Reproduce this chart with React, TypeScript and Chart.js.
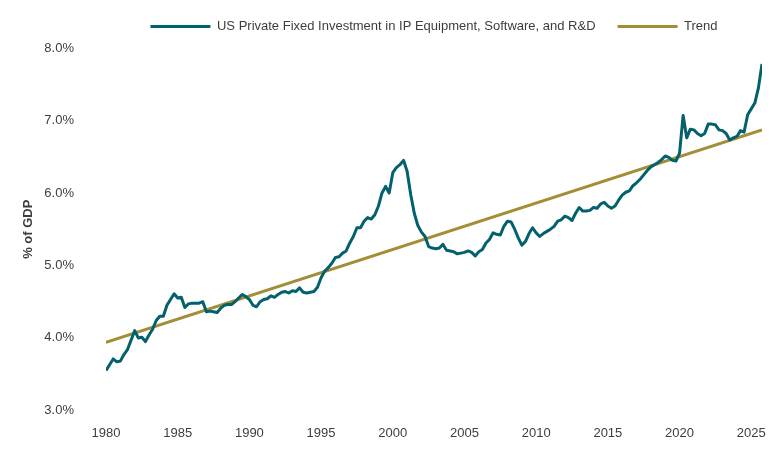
import { useEffect, useRef } from 'react';
import { Chart, registerables } from 'chart.js';

Chart.register(...registerables);

// Quarterly series, 1980 Q1 onward (% of GDP)
const startYear = 1980;
const quartersPerYear = 4;
const investmentShare: number[] = [
  3.55, 3.63, 3.71, 3.67, // 1980
  3.68, 3.77, 3.84, 3.97, // 1981
  4.10, 4.00, 4.01, 3.95, // 1982
  4.04, 4.12, 4.24, 4.30, // 1983
  4.30, 4.45, 4.53, 4.61, // 1984
  4.55, 4.56, 4.42, 4.47, // 1985
  4.48, 4.48, 4.48, 4.50, // 1986
  4.36, 4.37, 4.36, 4.35, // 1987
  4.41, 4.45, 4.46, 4.46, // 1988
  4.50, 4.55, 4.60, 4.57, // 1989
  4.53, 4.45, 4.43, 4.50, // 1990
  4.53, 4.54, 4.58, 4.56, // 1991
  4.60, 4.63, 4.64, 4.62, // 1992
  4.65, 4.64, 4.69, 4.63, // 1993
  4.62, 4.63, 4.64, 4.70, // 1994
  4.83, 4.92, 4.97, 5.03, // 1995
  5.11, 5.12, 5.17, 5.20, // 1996
  5.31, 5.40, 5.52, 5.52, // 1997
  5.61, 5.66, 5.64, 5.70, // 1998
  5.82, 6.00, 6.09, 6.00, // 1999
  6.28, 6.35, 6.39, 6.45, // 2000
  6.30, 5.98, 5.72, 5.55, // 2001
  5.46, 5.40, 5.26, 5.24, // 2002
  5.23, 5.24, 5.29, 5.21, // 2003
  5.20, 5.19, 5.16, 5.17, // 2004
  5.18, 5.20, 5.18, 5.13, // 2005
  5.19, 5.22, 5.31, 5.36, // 2006
  5.45, 5.43, 5.42, 5.54, // 2007
  5.61, 5.60, 5.50, 5.38, // 2008
  5.28, 5.33, 5.44, 5.52, // 2009
  5.45, 5.40, 5.44, 5.47, // 2010
  5.50, 5.54, 5.61, 5.63, // 2011
  5.68, 5.66, 5.62, 5.72, // 2012
  5.80, 5.75, 5.75, 5.76, // 2013
  5.80, 5.79, 5.85, 5.87, // 2014
  5.82, 5.79, 5.82, 5.90, // 2015
  5.97, 6.01, 6.03, 6.10, // 2016
  6.14, 6.19, 6.25, 6.31, // 2017
  6.36, 6.39, 6.42, 6.46, // 2018
  6.51, 6.49, 6.45, 6.44, // 2019
  6.55, 7.07, 6.76, 6.88, // 2020
  6.87, 6.82, 6.79, 6.82, // 2021
  6.95, 6.95, 6.94, 6.87, // 2022
  6.86, 6.82, 6.73, 6.76, // 2023
  6.78, 6.86, 6.84, 7.08, // 2024
  7.16, 7.24, 7.45, 7.78, // 2025
];

// Linear trend endpoints (% of GDP)
const trendStart = 3.94;
const trendEnd = 6.87;

const xTickYears = [1980, 1985, 1990, 1995, 2000, 2005, 2010, 2015, 2020, 2025];
const yTickValues = [3, 4, 5, 6, 7, 8];

const seriesLabel = 'US Private Fixed Investment in IP Equipment, Software, and R&D';
const trendLabel = 'Trend';
const yAxisTitle = '% of GDP';

const TEAL = '#03606d';
const GOLD = '#a38d36';
const TEXT = '#3d3d3d';
const FONT = "'Liberation Sans Narrow', 'Arial Narrow', 'Liberation Sans', Arial, sans-serif";
const FONT_SIZE = 13;

const LEFT_PAD = 14;
const PLOT_LEFT = 106;

// Keeps the legend centred over the plot area and nudges it up a little
const legendPlacement = {
  id: 'legendPlacement',
  afterLayout(chart: any) {
    const legend = chart.legend;
    const area = chart.chartArea;
    if (!legend || !area) return;
    const dx = (area.left + area.right) / 2 - (legend.left + legend.right) / 2;
    legend.left += dx;
    legend.right += dx;
    legend.top -= 5;
    legend.bottom -= 5;
  },
};

export default function App() {
  const canvasRef = useRef<HTMLCanvasElement>(null);

  useEffect(() => {
    document.body.style.margin = '0';
    const canvas = canvasRef.current;
    if (!canvas) return;

    const points = investmentShare.map((v, i) => ({ x: startYear + i / quartersPerYear, y: v }));
    const lastX = points[points.length - 1].x;
    const trendPoints = [
      { x: startYear, y: trendStart },
      { x: lastX, y: trendEnd },
    ];

    const chart = new Chart(canvas, {
      type: 'line',
      data: {
        datasets: [
          {
            label: seriesLabel,
            data: points,
            borderColor: TEAL,
            backgroundColor: TEAL,
            borderWidth: 3,
            pointRadius: 0,
            tension: 0,
            borderJoinStyle: 'round',
          },
          {
            label: trendLabel,
            data: trendPoints,
            borderColor: GOLD,
            backgroundColor: GOLD,
            borderWidth: 3,
            pointRadius: 0,
            tension: 0,
          },
        ],
      },
      options: {
        animation: false,
        responsive: false,
        devicePixelRatio: 1,
        layout: { padding: { top: 3, right: 21, bottom: 3, left: LEFT_PAD } },
        plugins: {
          legend: {
            position: 'top',
            align: 'center',
            labels: {
              usePointStyle: true,
              pointStyle: 'line',
              pointStyleWidth: 60,
              padding: 22,
              color: TEXT,
              font: { family: FONT, size: FONT_SIZE },
            },
          },
          tooltip: { enabled: false },
        },
        scales: {
          x: {
            type: 'linear',
            min: startYear,
            max: lastX,
            grid: { display: false, drawTicks: false },
            border: { display: false },
            afterBuildTicks: (scale: any) => {
              scale.ticks = xTickYears.map((v) => ({ value: v }));
            },
            ticks: {
              padding: 15,
              color: TEXT,
              font: { family: FONT, size: FONT_SIZE },
              maxRotation: 0,
              autoSkip: false,
              callback: (v: any) => String(v),
            },
          },
          y: {
            min: yTickValues[0],
            max: yTickValues[yTickValues.length - 1],
            grid: { display: false, drawTicks: false },
            border: { display: false },
            afterBuildTicks: (scale: any) => {
              scale.ticks = yTickValues.map((v) => ({ value: v }));
            },
            afterFit: (scale: any) => {
              scale.width = PLOT_LEFT - LEFT_PAD;
            },
            ticks: {
              padding: 32,
              color: TEXT,
              font: { family: FONT, size: FONT_SIZE },
              callback: (v: any) => Number(v).toFixed(1) + '%',
            },
            title: {
              display: true,
              text: yAxisTitle,
              color: TEXT,
              font: { family: FONT, size: FONT_SIZE, weight: 'bold' },
              padding: { top: 7, bottom: 9 },
            },
          },
        },
      },
      plugins: [legendPlacement],
    });

    return () => chart.destroy();
  }, []);

  return (
    <div style={{ width: 783, height: 459 }}>
      <canvas ref={canvasRef} width={783} height={459} style={{ display: 'block' }} />
    </div>
  );
}
